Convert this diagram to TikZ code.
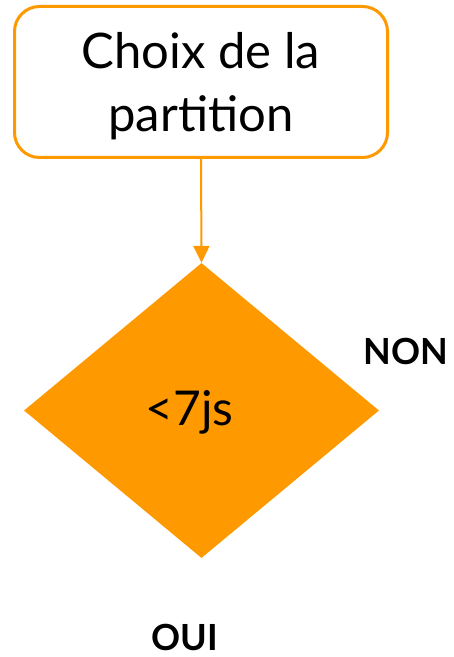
\documentclass[tikz,border=0pt]{standalone}
\usepackage{fontspec}
\setmainfont{Lato}
\usetikzlibrary{shapes.geometric,arrows.meta}
\definecolor{orng}{HTML}{FF9900}
\tikzset{
  procbox/.style={draw=orng,line width=3pt,rounded corners=25pt,fill=white,
    minimum width=373pt,minimum height=151pt,inner sep=0pt,align=center,
    font=\fontsize{49}{63}\selectfont},
  decision/.style={diamond,fill=orng,draw=none,inner sep=0pt,
    minimum width=355pt,minimum height=295pt},
  bigtext/.style={font=\fontsize{48}{58}\selectfont,inner sep=0pt},
  answer/.style={font=\fontsize{36}{43}\bfseries\selectfont,inner sep=0pt},
  flow/.style={draw=orng,line width=2pt,-{Triangle[width=16pt,length=17pt]}}
}
\begin{document}
\begin{tikzpicture}[x=1pt,y=1pt]
\useasboundingbox (0,0) rectangle (454,657);
\node[procbox] (box) at (201,575) {\raisebox{-5pt}[\height][\depth]{\begin{tabular}{@{}c@{}}Choix de la\\partition\end{tabular}}};
\node[decision] (dec) at (201.5,246.5) {};
\node[bigtext] (cond) at (189.5,245) {<7js};
\draw[flow] (box.south) -- (dec.north);
\node[answer] (non) at (406,306) {NON};
\node[answer] (oui) at (185,20) {OUI};
\end{tikzpicture}
\end{document}
